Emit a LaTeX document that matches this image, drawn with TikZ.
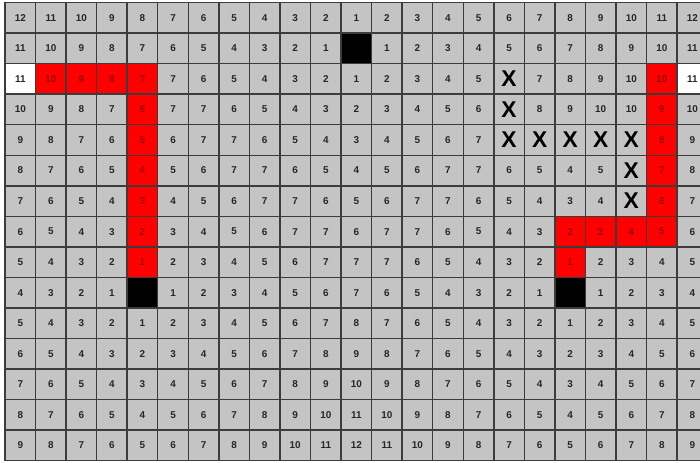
\documentclass[tikz,border=0pt]{standalone}
\usepackage{fontspec}
\setmainfont{Liberation Sans}
\definecolor{cellgray}{HTML}{C4C4C4}
\definecolor{gridline}{HTML}{3C3C3C}
\definecolor{pathred}{HTML}{FF0000}
\definecolor{pathtext}{HTML}{9C0000}
\tikzset{
  % start cells
  c2-0/.style=startcell, c2-22/.style=startcell,
  % goal cells
  c1-11/.style=goalcell, c9-4/.style=goalcell, c9-18/.style=goalcell,
  % wall
  c2-16/.style=wallcell, c3-16/.style=wallcell, c4-16/.style=wallcell,
  c4-17/.style=wallcell, c4-18/.style=wallcell, c4-19/.style=wallcell,
  c4-20/.style=wallcell, c5-20/.style=wallcell, c6-20/.style=wallcell,
  % left path
  c2-1/.style=pathcell, c2-2/.style=pathcell, c2-3/.style=pathcell,
  c2-4/.style=pathcell, c3-4/.style=pathcell, c4-4/.style=pathcell,
  c5-4/.style=pathcell, c6-4/.style=pathcell, c7-4/.style=pathcell,
  c8-4/.style=pathcell,
  % right path
  c2-21/.style=pathcell, c3-21/.style=pathcell, c4-21/.style=pathcell,
  c5-21/.style=pathcell, c6-21/.style=pathcell, c7-21/.style=pathcell,
  c7-20/.style=pathcell, c7-19/.style=pathcell, c7-18/.style=pathcell,
  c8-18/.style=pathcell
}

\begin{document}
\begin{tikzpicture}[
  x=8mm,y=8mm,
  cell/.style={draw=gridline,line width=1.1pt,fill=cellgray,minimum size=8mm,inner sep=0pt,
    font=\fontsize{7.4}{8}\selectfont\bfseries,text=black!85},
  startcell/.style={fill=white},
  goalcell/.style={fill=black},
  pathcell/.style={fill=pathred,text=pathtext},
  wallcell/.style={font=\fontsize{17}{18}\selectfont\bfseries,text=black}
]
\useasboundingbox (-0.164,0.082) rectangle (22.75,-15.073);
\foreach \rowvals [count=\r from 0] in {
  {12,11,10,9,8,7,6,5,4,3,2,1,2,3,4,5,6,7,8,9,10,11,12},
  {11,10,9,8,7,6,5,4,3,2,1,{},1,2,3,4,5,6,7,8,9,10,11},
  {11,10,9,8,7,7,6,5,4,3,2,1,2,3,4,5,X,7,8,9,10,10,11},
  {10,9,8,7,6,7,7,6,5,4,3,2,3,4,5,6,X,8,9,10,10,9,10},
  {9,8,7,6,5,6,7,7,6,5,4,3,4,5,6,7,X,X,X,X,X,8,9},
  {8,7,6,5,4,5,6,7,7,6,5,4,5,6,7,7,6,5,4,5,X,7,8},
  {7,6,5,4,3,4,5,6,7,7,6,5,6,7,7,6,5,4,3,4,X,6,7},
  {6,5,4,3,2,3,4,5,6,7,7,6,7,7,6,5,4,3,2,3,4,5,6},
  {5,4,3,2,1,2,3,4,5,6,7,7,7,6,5,4,3,2,1,2,3,4,5},
  {4,3,2,1,{},1,2,3,4,5,6,7,6,5,4,3,2,1,{},1,2,3,4},
  {5,4,3,2,1,2,3,4,5,6,7,8,7,6,5,4,3,2,1,2,3,4,5},
  {6,5,4,3,2,3,4,5,6,7,8,9,8,7,6,5,4,3,2,3,4,5,6},
  {7,6,5,4,3,4,5,6,7,8,9,10,9,8,7,6,5,4,3,4,5,6,7},
  {8,7,6,5,4,5,6,7,8,9,10,11,10,9,8,7,6,5,4,5,6,7,8},
  {9,8,7,6,5,6,7,8,9,10,11,12,11,10,9,8,7,6,5,6,7,8,9}}
{
  \foreach \v [count=\c from 0] in \rowvals
    \node[cell,c\r-\c/.try] (n\r-\c) at (\c+0.5,-\r-0.5) {\v};
}
\end{tikzpicture}
\end{document}
